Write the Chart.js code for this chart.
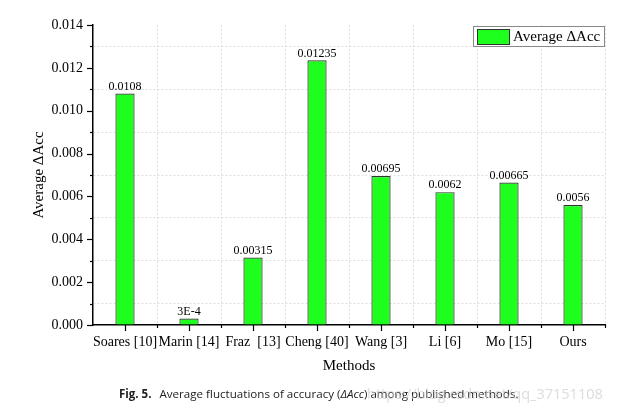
<!doctype html>
<html>
<head>
<meta charset="utf-8">
<title>Average fluctuations of accuracy</title>
<script src="https://cdn.jsdelivr.net/npm/chart.js@4/dist/chart.umd.min.js"></script>
<style>
  body { margin: 0; background: #fff; }
</style>
</head>
<body>
<canvas id="barChart" width="619" height="413"></canvas>
<script>
// data
var methods = ["Soares [10]", "Marin [14]", "Fraz  [13]", "Cheng [40]", "Wang [3]", "Li [6]", "Mo [15]", "Ours"];
var avgDeltaAcc = [0.0108, 0.0003, 0.00315, 0.01235, 0.00695, 0.0062, 0.00665, 0.0056];
var valueLabels = ["0.0108", "3E-4", "0.00315", "0.01235", "0.00695", "0.0062", "0.00665", "0.0056"];
var yMin = 0, yMax = 0.014, yStep = 0.001;

var serif = "'Liberation Serif', 'DejaVu Serif', serif";
var barGreen = "#1eff1e";
var gridGrey = "#e0e0e0";

// tick marks, value labels, legend and caption
var extras = {
  id: "extras",
  afterDraw: function(chart) {
    var ctx = chart.ctx;
    var xs = chart.scales.x, ys = chart.scales.y;
    var area = chart.chartArea;
    ctx.save();
    ctx.setLineDash([]);
    ctx.strokeStyle = "#000";
    ctx.lineWidth = 1.2;
    // y ticks: major on even, minor on odd
    ys.ticks.forEach(function(t, i) {
      var y = Math.round(ys.getPixelForValue(t.value)) + 0.5;
      var len = (i % 2 === 0) ? 6 : 3;
      ctx.beginPath();
      ctx.moveTo(area.left, y);
      ctx.lineTo(area.left - len, y);
      ctx.stroke();
    });
    // x ticks: major at centres, minor at boundaries
    var n = methods.length;
    var w = (area.right - area.left) / n;
    for (var i = 0; i < n; i++) {
      var cx = Math.round(xs.getPixelForValue(i)) + 0.5;
      ctx.beginPath();
      ctx.moveTo(cx, area.bottom);
      ctx.lineTo(cx, area.bottom + 6);
      ctx.stroke();
      var bx = Math.round(area.left + w * (i + 1)) + 0.5;
      ctx.beginPath();
      ctx.moveTo(bx, area.bottom);
      ctx.lineTo(bx, area.bottom + 3);
      ctx.stroke();
    }

    // value labels above bars
    var meta = chart.getDatasetMeta(0);
    ctx.fillStyle = "#000";
    ctx.font = "12px " + serif;
    ctx.textAlign = "center";
    ctx.textBaseline = "bottom";
    meta.data.forEach(function(bar, i) {
      ctx.fillText(valueLabels[i], bar.x, bar.y - 1);
    });

    // legend box
    var lx = 473, ly = 26, lw = 131, lh = 20;
    ctx.fillStyle = "#fff";
    ctx.fillRect(lx, ly, lw, lh);
    ctx.strokeStyle = "#888";
    ctx.lineWidth = 1;
    ctx.strokeRect(lx + 0.5, ly + 0.5, lw, lh);
    ctx.fillStyle = barGreen;
    ctx.fillRect(477, 29, 32, 15);
    ctx.strokeStyle = "#333";
    ctx.strokeRect(477.5, 29.5, 32, 15);
    ctx.fillStyle = "#000";
    ctx.font = "15px " + serif;
    ctx.textAlign = "left";
    ctx.textBaseline = "middle";
    ctx.fillText("Average \u0394Acc", 513, 37);

    // caption
    var sans = "'Open Sans', 'Noto Sans', sans-serif";
    var y0 = 395;
    var x0 = 119;
    ctx.textBaseline = "middle";
    ctx.font = "bold 11.5px " + sans;
    ctx.fillStyle = "#222";
    ctx.fillText("Fig. 5.", x0, y0);
    x0 += ctx.measureText("Fig. 5.").width + 8;
    var parts = [
      ["11.6px ", "Average fluctuations of accuracy ("],
      ["italic 11.6px ", "\u0394Acc"],
      ["11.6px ", ") among published methods."]
    ];
    parts.forEach(function(p) {
      ctx.font = p[0] + sans;
      ctx.fillText(p[1], x0, y0);
      x0 += ctx.measureText(p[1]).width;
    });
    ctx.fillStyle = "rgba(205,205,205,0.7)";
    ctx.font = "14.5px " + sans;
    ctx.fillText("https://blog.csdn.net/qq_37151108", 367, y0);
    ctx.restore();
  }
};

var ctx = document.getElementById("barChart").getContext("2d");
var chart = new Chart(ctx, {
  type: "bar",
  data: {
    labels: methods,
    datasets: [{
      label: "Average \u0394Acc",
      data: avgDeltaAcc,
      backgroundColor: barGreen,
      borderColor: "#333",
      borderWidth: 1.2,
      barPercentage: 0.3,
      categoryPercentage: 1.0
    }]
  },
  options: {
    responsive: false,
    animation: false,
    layout: { padding: { left: 26, top: 25, right: 14, bottom: 36 } },
    plugins: {
      legend: { display: false },
      tooltip: { enabled: false }
    },
    scales: {
      x: {
        offset: true,
        grid: {
          offset: true,
          drawTicks: false,
          color: function(c) {
            return (c.index === 0 || c.index >= methods.length) ? "rgba(0,0,0,0)" : gridGrey;
          },
          lineWidth: 1
        },
        border: { display: true, color: "#000", width: 1.5, dash: [2, 2] },
        ticks: {
          color: "#000",
          font: { family: serif, size: 14 },
          padding: 9,
          maxRotation: 0,
          autoSkip: false
        },
        title: {
          display: true,
          text: "Methods",
          color: "#000",
          font: { family: serif, size: 15 },
          padding: { top: 2, bottom: 2 }
        },
        afterFit: function(s) { s.height = 52; }
      },
      y: {
        min: yMin,
        max: yMax,
        grid: {
          drawTicks: false,
          color: function(c) {
            return (c.index % 2 === 1) ? gridGrey : "rgba(0,0,0,0)";
          },
          lineWidth: 1
        },
        border: { display: true, color: "#000", width: 1.5, dash: [2, 2] },
        ticks: {
          stepSize: yStep,
          autoSkip: false,
          color: "#000",
          font: { family: serif, size: 14 },
          padding: 10,
          callback: function(v, i) {
            return (i % 2 === 0) ? v.toFixed(3) : "";
          }
        },
        title: {
          display: true,
          text: "Average \u0394Acc",
          color: "#000",
          font: { family: serif, size: 15 },
          padding: { top: 4, bottom: 4 }
        },
        afterFit: function(s) { s.width = 67; }
      }
    }
  },
  plugins: [extras]
});
</script>
</body>
</html>
